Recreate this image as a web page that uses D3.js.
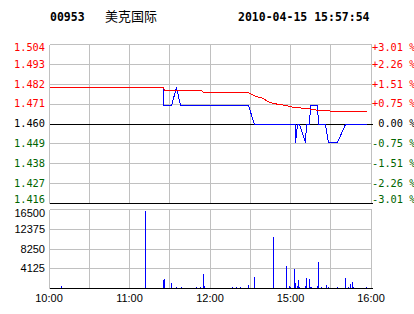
<!DOCTYPE html>
<html><head><meta charset="utf-8">
<script src="https://cdn.jsdelivr.net/npm/d3@7"></script>
<style>html,body{margin:0;padding:0;background:#fff}svg{display:block}</style>
</head><body><svg id="c" width="414" height="314"></svg>
<script>
const stockCode = "00953";
const stockName = "美克国际";
const stamp = "2010-04-15 15:57:54";
const prevClose = 1.46;
const pctRange = 0.0301;
const priceTickLabels = ["1.416","1.427","1.438","1.449","1.460","1.471","1.482","1.493","1.504"];
const pctTickLabels = ["-3.01 %","-2.26 %","-1.51 %","-0.75 %"," 0.00 %","+0.75 %","+1.51 %","+2.26 %","+3.01 %"];
const volTicks = [4125, 8250, 12375, 16500];
const volMax = 16500;
const timeTicks = ["10:00","11:00","12:00","15:00","16:00"];
const gridTimes = ["10:00","10:30","11:00","11:30","12:00","12:30","15:00","15:30","16:00"];

const priceTimes = ["10:00","11:25","11:25","11:31","11:35","11:38","12:29","14:33","15:04","15:04","15:05","15:07","15:11","15:12","15:14","15:15","15:20","15:21","15:26","15:28","15:35","15:41","15:57"];
const priceValues = [1.48,1.48,1.47,1.47,1.48,1.47,1.47,1.46,1.46,1.45,1.46,1.46,1.45,1.46,1.46,1.47,1.47,1.46,1.46,1.45,1.45,1.46,1.46];

const avgTimes = ["10:00","11:25","11:26","11:54","11:55","12:29","14:31","14:35","14:40","14:43","14:47","14:52","14:57","15:02","15:13","15:21","15:37","15:57"];
const avgValues = [1.4800,1.4800,1.4785,1.4785,1.4773,1.4773,1.4763,1.4752,1.4739,1.4726,1.4712,1.4708,1.4702,1.4690,1.4684,1.4676,1.4669,1.4669];

const volTimes = ["10:09","11:12","11:25","11:26","11:31","11:35","11:39","11:50","11:53","11:55","11:56","12:17","12:20","12:23","12:29","14:33","14:47","14:57","14:59","15:00","15:03","15:04","15:05","15:06","15:07","15:11","15:12","15:14","15:15","15:16","15:20","15:21","15:23","15:27","15:28","15:35","15:41","15:43","15:45","15:46","15:47","15:57"];
const volValues = [600,16200,1900,2100,1250,400,400,400,400,3150,650,400,400,400,850,2500,10900,4800,650,400,4200,1250,600,1900,400,650,2300,2100,400,400,650,5650,400,850,400,400,2300,400,1050,1450,400,400];

function tIdx(s){
  const [h,m] = s.split(":").map(Number);
  let v = h*60 + m - 600;
  if (v > 150) v -= 120;
  return v;
}

const svg = d3.select("#c");
const L = 49, R = 371, PT = 44, PB = 203, VT = 209, VB = 288;
const GRID = "#c0c0c0", RED = "#ff0000", GREEN = "#006400", BLUE = "#0000ff";
const x = d3.scaleLinear().domain([0,240]).range([L,R]);
const y = d3.scaleLinear().domain([prevClose*(1-pctRange), prevClose*(1+pctRange)]).range([PB,PT]);
const yv = d3.scaleLinear().domain([0,volMax]).range([VB,VT]);
const fx = v => Math.floor(v)+0.5;
const ry = v => Math.round(v)+0.5;
const priceLevels = priceTickLabels.map((_,i)=> prevClose*(1 + (i-4)*pctRange/4));
const colorOf = i => i>4 ? RED : (i<4 ? GREEN : "#000");

// Title
const title = svg.append("g").attr("font-family","DejaVu Sans Mono").attr("font-weight","bold").attr("font-size","11.5px");
title.append("text").attr("x",50).attr("y",21).text(stockCode);
svg.append("text").attr("x",105).attr("y",21).attr("font-family","Noto Sans CJK SC").attr("font-size","13px").text(stockName);
title.append("text").attr("x",238).attr("y",21).text(stamp);

// Price panel grid
const pg = svg.append("g").attr("shape-rendering","crispEdges");
priceLevels.forEach((p,i)=>{
  if (i===0 || i===4) return;
  pg.append("line").attr("x1",fx(L)).attr("x2",fx(R)).attr("y1",ry(y(p))).attr("y2",ry(y(p))).attr("stroke",GRID);
});
gridTimes.forEach(t=>{
  pg.append("line").attr("x1",fx(x(tIdx(t)))).attr("x2",fx(x(tIdx(t)))).attr("y1",ry(PT)).attr("y2",ry(PB)).attr("stroke",GRID);
});
pg.append("line").attr("x1",fx(L)).attr("x2",fx(R)+1).attr("y1",ry(y(prevClose))).attr("y2",ry(y(prevClose))).attr("stroke","#000");
pg.append("line").attr("x1",fx(L)).attr("x2",fx(R)+1).attr("y1",ry(PB)).attr("y2",ry(PB)).attr("stroke","#000");

// Price axis labels
const lab = svg.append("g").attr("font-family","DejaVu Sans Mono").attr("font-size","10.3px");
priceLevels.forEach((p,i)=>{
  const c = Math.min(Math.max(y(p), PT+3.5), PB-3.5);
  lab.append("text").attr("x",45).attr("y",c+3.8).attr("text-anchor","end").attr("fill",colorOf(i)).text(priceTickLabels[i]);
  lab.append("text").attr("x",372).attr("y",c+3.8).attr("fill",colorOf(i)).style("white-space","pre").text(pctTickLabels[i]);
});

// Lines
const line = d3.line().x(d=>fx(x(tIdx(d[0])))).y(d=>ry(y(d[1])));
svg.append("path").datum(priceTimes.map((t,i)=>[t,priceValues[i]])).attr("d",line).attr("fill","none").attr("stroke",BLUE).attr("stroke-width",1).attr("shape-rendering","crispEdges");
svg.append("path").datum(avgTimes.map((t,i)=>[t,avgValues[i]])).attr("d",line).attr("fill","none").attr("stroke",RED).attr("stroke-width",1).attr("shape-rendering","crispEdges");

// Volume panel
const vg = svg.append("g").attr("shape-rendering","crispEdges");
volTicks.forEach(v=>{
  vg.append("line").attr("x1",fx(L)).attr("x2",fx(R)).attr("y1",ry(yv(v))).attr("y2",ry(yv(v))).attr("stroke",GRID);
});
gridTimes.forEach(t=>{
  vg.append("line").attr("x1",fx(x(tIdx(t)))).attr("x2",fx(x(tIdx(t)))).attr("y1",ry(VT)).attr("y2",ry(VB)).attr("stroke",GRID);
});
vg.selectAll("line.bar").data(volTimes.map((t,i)=>[t,volValues[i]])).enter().append("line").attr("class","bar")
  .attr("x1",d=>fx(x(tIdx(d[0])))).attr("x2",d=>fx(x(tIdx(d[0]))))
  .attr("y1",ry(VB)).attr("y2",d=>ry(yv(d[1]))).attr("stroke",BLUE);
vg.append("line").attr("x1",fx(L)).attr("x2",fx(R)+1).attr("y1",ry(VB)).attr("y2",ry(VB)).attr("stroke","#000");

const vl = svg.append("g").attr("font-family","Liberation Sans").attr("font-size","11px");
volTicks.forEach(v=>{
  const c = Math.min(Math.max(yv(v), VT+4), VB-4);
  vl.append("text").attr("x",45).attr("y",c+4).attr("text-anchor","end").text(v);
});
timeTicks.forEach(t=>{
  vl.append("text").attr("x",x(tIdx(t))).attr("y",302).attr("text-anchor","middle").text(t);
});
</script></body></html>
